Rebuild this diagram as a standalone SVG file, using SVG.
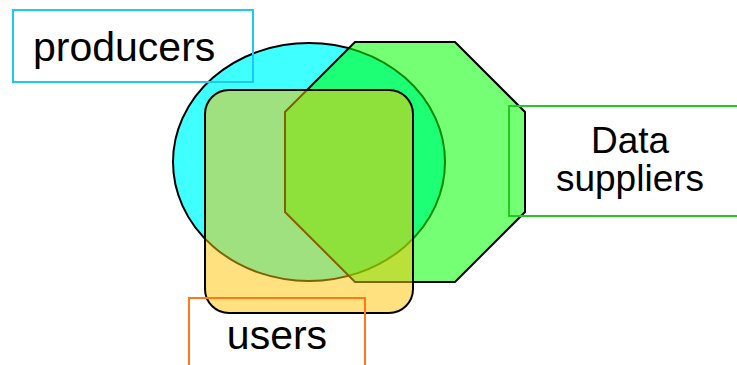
<svg xmlns="http://www.w3.org/2000/svg" width="737" height="365" viewBox="0 0 737 365">
<style>
.shape{stroke:#000;stroke-width:2}
.lbl{fill:none;stroke-width:2}
text{font-family:"Liberation Sans",Arial,sans-serif;fill:#000}
</style>
<rect width="737" height="365" fill="#fff"/>
<g id="producers-set"><ellipse class="shape" cx="309" cy="162" rx="136" ry="119" fill="#40FFFF"/></g>
<g id="suppliers-set"><polygon class="shape" points="355,42 455,42 525,112 525,212 455,282 355,282 285,212 285,112" fill="#00FF00" fill-opacity="0.54"/></g>
<g id="users-set"><rect class="shape" x="205" y="90" width="208" height="223" rx="24" fill="#FFC300" fill-opacity="0.5" stroke-width="2.5"/></g>
<g id="producers-label">
<rect class="lbl" x="13" y="10" width="240" height="72" stroke="#1EC8F5"/>
<text x="33" y="61" font-size="41">producers</text>
</g>
<g id="suppliers-label">
<rect class="lbl" x="509" y="106" width="240" height="110" stroke="#1ECB1E"/>
<text x="630" y="153" font-size="37" text-anchor="middle">Data</text>
<text x="630" y="191" font-size="37" text-anchor="middle">suppliers</text>
</g>
<g id="users-label">
<rect class="lbl" x="189" y="298" width="176" height="80" stroke="#FF7A14"/>
<text x="277" y="349" font-size="41" text-anchor="middle">users</text>
</g>
<g id="connectors"></g>
</svg>
